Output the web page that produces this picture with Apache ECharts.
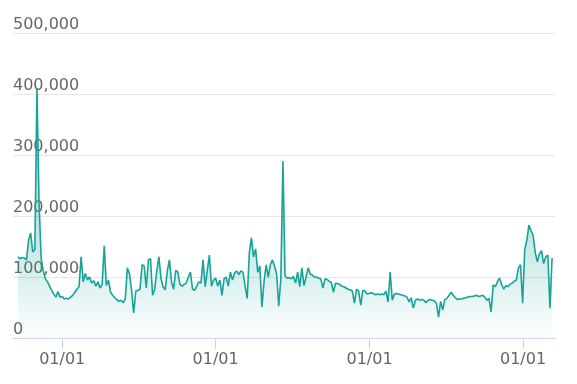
<!DOCTYPE html>
<html>
<head>
<meta charset="utf-8">
<script src="https://cdn.jsdelivr.net/npm/echarts@6/dist/echarts.min.js"></script>
<style>html,body{margin:0;padding:0;background:#fff}#c{width:577px;height:384px}</style>
</head>
<body>
<div id="c"></div>
<script>
// x positions: one value every 5 days starting at this date
const startDate = '2018-09-18';
const stepDays = 5;
const axisMin = '2018-09-06';
const axisMax = '2022-03-18';
const values = [
133000,130000,132000,131000,128000,160000,172000,141000,145000,410000,
220000,130000,110000,97000,92000,85000,78000,72000,67000,76000,
67000,68000,64000,65000,64000,67000,70000,75000,80000,84000,
133000,92000,106000,95000,100000,90000,94000,85000,92000,82000,
88000,151000,86000,95000,75000,70000,66000,63000,60000,62000,
58000,64000,115000,105000,78000,41000,77000,78000,80000,120000,
118000,82000,128000,130000,70000,80000,110000,133000,97000,84000,
79000,110000,128000,92000,80000,111000,108000,88000,85000,88000,
90000,100000,108000,80000,78000,85000,92000,90000,128000,84000,
110000,136000,85000,95000,98000,85000,95000,70000,97000,100000,
85000,108000,95000,106000,110000,104000,110000,108000,85000,65000,
139000,164000,133000,146000,108000,118000,51000,92000,120000,100000,
120000,128000,118000,105000,52000,98000,290000,102000,98000,99000,
97000,101000,90000,108000,84000,115000,86000,100000,115000,105000,
103000,100000,100000,98000,97000,82000,97000,96000,93000,91000,
75000,90000,89000,88000,85000,84000,82000,80000,79000,77000,
57000,80000,77000,54000,78000,77000,72000,73000,74000,73000,
71000,72000,71000,72000,71000,77000,59000,108000,62000,72000,
73000,72000,71000,70000,69000,67000,59000,66000,49000,62000,
64000,62000,63000,62000,58000,62000,63000,62000,61000,57000,
34000,60000,46000,63000,65000,70000,75000,70000,66000,63000,
64000,64000,65000,66000,67000,68000,68000,69000,70000,68000,
69000,70000,67000,62000,65000,43000,87000,84000,92000,98000,
88000,80000,86000,84000,88000,90000,93000,95000,115000,120000,
57000,145000,160000,185000,176000,168000,140000,125000,138000,143000,
122000,133000,136000,49000,131000
];
const yTicks = [0, 100000, 200000, 300000, 400000, 500000];

const DAY = 86400000;
const t0 = Date.parse(startDate + 'T00:00:00Z');
const dates = values.map((_, i) => t0 + i * stepDays * DAY);
const seriesData = values.map((v, i) => [dates[i], v]);

const chart = echarts.init(document.getElementById('c'), null, {renderer: 'canvas'});
const FONT = 'DejaVu Sans';
chart.setOption({
  animation: false,
  useUTC: true,
  grid: {left: 13, right: 22, top: 33, bottom: 46, containLabel: false},
  xAxis: {
    type: 'time',
    min: Date.parse(axisMin + 'T00:00:00Z'),
    max: Date.parse(axisMax + 'T00:00:00Z'),
    minInterval: 365 * DAY,
    splitLine: {show: false},
    axisLine: {show: true, lineStyle: {color: '#ccd6eb', width: 1}},
    axisTick: {show: true, length: 11, lineStyle: {color: '#ccd6eb'}},
    axisLabel: {
      formatter: '{MM}/{dd}', color: '#666666', fontSize: 16, fontFamily: FONT,
      margin: 14, hideOverlap: false, showMinLabel: false, showMaxLabel: false
    }
  },
  yAxis: {
    type: 'value',
    min: yTicks[0], max: yTicks[yTicks.length - 1], interval: 100000,
    axisLine: {show: false},
    axisTick: {show: false},
    splitLine: {lineStyle: {color: '#e6e6e6', width: 1}},
    axisLabel: {
      inside: true, verticalAlign: 'bottom', align: 'left', margin: 0,
      color: '#666666', fontSize: 16, fontFamily: FONT,
      formatter: v => v.toLocaleString('en-US')
    }
  },
  series: [{
    type: 'line',
    data: seriesData,
    showSymbol: false,
    symbol: 'none',
    lineStyle: {color: '#17a398', width: 1.6},
    itemStyle: {color: '#17a398'},
    areaStyle: {
      color: new echarts.graphic.LinearGradient(0, 0, 0, 1, [
        {offset: 0, color: 'rgba(23,163,152,0.6)'},
        {offset: 0.6, color: 'rgba(23,163,152,0.36)'},
        {offset: 1, color: 'rgba(23,163,152,0.02)'}
      ])
    }
  }]
});
</script>
</body>
</html>
